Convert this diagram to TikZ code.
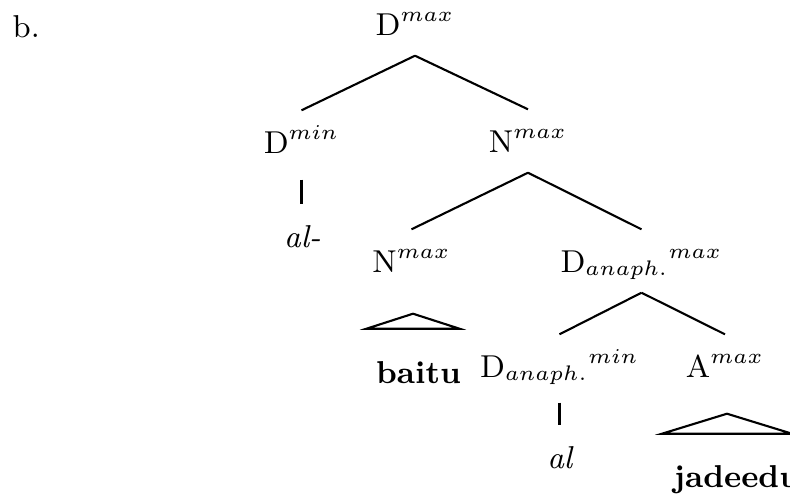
\documentclass[tikz,border=0pt]{standalone}
\usepackage{amsmath}
\usetikzlibrary{calc,positioning}

\begin{document}
\begin{tikzpicture}[
  font=\fontsize{9}{11}\selectfont,
  cat/.style={anchor=base, text height=0.28cm, text depth=0.06cm, inner ysep=0.14cm, inner xsep=0pt},
  branch/.style={line width=0.6pt}]
\useasboundingbox (0,0) rectangle (7.90,-4.93);

% Example number
\node[anchor=base west, inner sep=0pt] (ex) at (0.12,-0.37) {b.};

% Categories
\node[cat] (dmax) at (4.15,-0.35) {D$^{max}$};
\node[cat] (dmin) at (3.015,-1.53) {D$^{min}$};
\node[cat] (nmaxA) at (5.28,-1.52) {N$^{max}$};
\node[cat] (nmaxB) at (4.115,-2.72) {N$^{max}$};
\node[cat] (danmax) at (6.415,-2.72) {D$_{anaph.}{}^{max}$};
\node[cat] (danmin) at (5.595,-3.77) {D$_{anaph.}{}^{min}$};
\node[cat] (amax) at (7.25,-3.77) {A$^{max}$};

% Words
\node[cat] (alA) at (3.025,-2.47) {\textit{al-}};
\node[cat] (baitu) at (4.185,-3.83) {\textbf{baitu}};
\node[cat] (alB) at (5.605,-4.68) {\textit{al}};
\node[cat, anchor=base west] (jadeedu) at (6.73,-4.87) {\textbf{jadeedu}};

% Branches
\draw[branch] (dmax.south) -- (dmin.north);
\draw[branch] (dmax.south) -- (nmaxA.north);
\draw[branch] (nmaxA.south) -- (nmaxB.north);
\draw[branch] (nmaxA.south) -- (danmax.north);
\draw[branch] (danmax.south) -- (danmin.north);
\draw[branch] (danmax.south) -- (amax.north);

% Unary lines
\draw[branch, shorten <=0.06cm] (dmin.south) -- (dmin.south |- alA.north);
\draw[branch, shorten <=0.05cm] (danmin.south) -- (danmin.south |- alB.north);

% Triangles
\draw[branch] ([xshift=0.015cm, yshift=-0.21cm]nmaxB.south) -- ++(-0.465,-0.15) -- ++(0.93,0) -- cycle;
\draw[branch] ([xshift=0.02cm, yshift=-0.16cm]amax.south) -- ++(-0.65,-0.20) -- ++(1.30,0) -- cycle;
\end{tikzpicture}
\end{document}
